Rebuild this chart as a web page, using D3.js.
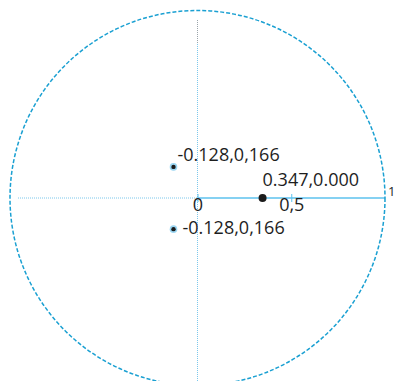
<!DOCTYPE html>
<html>
<head>
<meta charset="utf-8">
<script src="https://cdn.jsdelivr.net/npm/d3@7"></script>
<style>
  html, body { margin: 0; padding: 0; background: #fff; overflow: hidden; }
  svg { display: block; }
  text { font-family: "Open Sans", sans-serif; fill: #1e1e1e; }
</style>
</head>
<body>
<svg id="chart" width="394" height="381"></svg>
<script>
// Pole-zero plot on the unit circle
const zeros = [
  { re: -0.128, im: 0.166, label: "-0.128,0,166" },
  { re: -0.128, im: -0.166, label: "-0.128,0,166" }
];
const poles = [
  { re: 0.347, im: 0.000, label: "0.347,0.000" }
];
const realTicks = [0, 0.5];
const realTickLabels = ["0", "0,5"];

const width = 394, height = 381;
const cx = 197.5, cy = 198, R = 187.5;
const fontSize = 18;

const x = d3.scaleLinear().domain([-1, 1]).range([cx - R, cx + R]);
const y = d3.scaleLinear().domain([-1, 1]).range([cy + R, cy - R]);

const svg = d3.select("#chart");
const blue = "#1aa0d2";
const light = "#7cc8ec";

// dotted negative real axis
svg.append("line")
  .attr("x1", 18).attr("x2", x(0))
  .attr("y1", y(0)).attr("y2", y(0))
  .attr("stroke", light).attr("stroke-width", 1)
  .attr("stroke-dasharray", "1,1");

// dotted imaginary axis
svg.append("line")
  .attr("x1", x(0)).attr("x2", x(0))
  .attr("y1", 44).attr("y2", height)
  .attr("stroke", light).attr("stroke-width", 1)
  .attr("stroke-dasharray", "1,1");
svg.append("line")
  .attr("x1", x(0)).attr("x2", x(0))
  .attr("y1", 20).attr("y2", 44)
  .attr("stroke", "#9aa4aa").attr("stroke-width", 1)
  .attr("stroke-dasharray", "1,1");

// positive real axis with ticks
const axis = d3.axisBottom(x)
  .tickValues(realTicks)
  .tickFormat((d, i) => realTickLabels[i])
  .tickSize(2)
  .tickPadding(0);
const gAxis = svg.append("g")
  .attr("transform", `translate(0,${y(0)})`)
  .call(axis);
gAxis.select(".domain").remove();
gAxis.insert("line", ":first-child")
  .attr("x1", x(0)).attr("x2", x(1))
  .attr("stroke", "#5cc2ee").attr("stroke-width", 1.6);
gAxis.selectAll(".tick line").attr("stroke", "#5cc2ee").attr("y1", -4).attr("y2", 4);
gAxis.selectAll(".tick text")
  .attr("font-family", "Open Sans, sans-serif")
  .attr("font-size", fontSize).attr("fill", "#1e1e1e")
  .attr("dy", "0.62em");

// unit circle
svg.append("circle")
  .attr("cx", x(0)).attr("cy", y(0))
  .attr("r", x(1) - x(0))
  .attr("fill", "none")
  .attr("stroke", blue).attr("stroke-width", 1.5)
  .attr("stroke-dasharray", "4,2");

// "1" marker at the end of the real axis
svg.append("text")
  .attr("x", x(1) + 3).attr("y", y(0) - 2)
  .attr("font-size", 13)
  .text("1");

// zeros
svg.selectAll(".zero").data(zeros).join("g")
  .attr("class", "zero")
  .each(function (d) {
    const g = d3.select(this);
    g.append("circle").attr("cx", x(d.re)).attr("cy", y(d.im))
      .attr("r", 3.8).attr("fill", "#9bd6f2");
    g.append("circle").attr("cx", x(d.re)).attr("cy", y(d.im))
      .attr("r", 2.2).attr("fill", "#1b1b1b");
  });

// poles
svg.selectAll(".pole").data(poles).join("circle")
  .attr("class", "pole")
  .attr("cx", d => x(d.re)).attr("cy", d => y(d.im))
  .attr("r", 4).attr("fill", "#1b1b1b");

// value labels
svg.append("text")
  .attr("x", x(zeros[0].re) + 4).attr("y", y(zeros[0].im) - 6)
  .attr("font-size", fontSize).text(zeros[0].label);
svg.append("text")
  .attr("x", x(zeros[1].re) + 9).attr("y", y(zeros[1].im) + 5)
  .attr("font-size", fontSize).text(zeros[1].label);
svg.append("text")
  .attr("x", x(poles[0].re) + 0).attr("y", y(poles[0].im) - 12)
  .attr("font-size", fontSize).text(poles[0].label);
</script>
</body>
</html>
